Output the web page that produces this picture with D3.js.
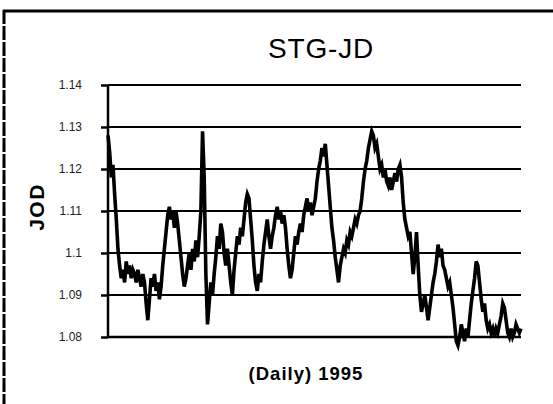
<!DOCTYPE html>
<html>
<head>
<meta charset="utf-8">
<script src="https://cdn.jsdelivr.net/npm/d3@7"></script>
<style>
  body { margin: 0; background: #fff; }
  svg { display: block; font-family: "Liberation Sans", Arial, sans-serif; }
</style>
</head>
<body>
<svg id="vis"></svg>
<script>
// Datos: tipo de cambio STG-JD diario 1995
const TITLE = "STG-JD";
const X_LABEL = "(Daily) 1995";
const Y_LABEL = "JOD";
const Y_TICKS = [1.08, 1.09, 1.1, 1.11, 1.12, 1.13, 1.14];
const Y_TICK_LABELS = ["1.08", "1.09", "1.1", "1.11", "1.12", "1.13", "1.14"];

const rate = [
    1.128, 1.124, 1.118, 1.121, 1.114, 1.108, 1.101,
    1.097, 1.094, 1.096, 1.093, 1.098, 1.095, 1.097, 1.094, 1.096, 1.095, 1.093, 1.096, 1.094, 1.092, 1.095, 1.093,
    1.088, 1.084, 1.089,
    1.094, 1.092, 1.095, 1.091, 1.093, 1.089,
    1.092, 1.097, 1.101, 1.105, 1.109, 1.111, 1.108,
    1.110, 1.106, 1.110, 1.107, 1.103,
    1.099, 1.095, 1.092, 1.094, 1.097,
    1.100, 1.096, 1.101, 1.098, 1.103, 1.099, 1.104,
    1.110, 1.129, 1.118, 1.095, 1.083,
    1.088, 1.093, 1.090, 1.095,
    1.099, 1.104, 1.101, 1.107, 1.105, 1.100,
    1.097, 1.101, 1.097, 1.093, 1.090, 1.096,
    1.100, 1.104, 1.102, 1.106, 1.104, 1.108, 1.112, 1.114,
    1.113, 1.108, 1.103, 1.097, 1.093, 1.091,
    1.095, 1.093, 1.098, 1.102,
    1.105, 1.108, 1.104, 1.101, 1.104, 1.106,
    1.109, 1.111, 1.108, 1.110, 1.107,
    1.109, 1.106, 1.101, 1.097, 1.094,
    1.096, 1.100, 1.104, 1.102, 1.105,
    1.107, 1.105, 1.109, 1.111, 1.113, 1.110,
    1.112, 1.109, 1.111, 1.113, 1.117,
    1.120, 1.122, 1.125, 1.123, 1.126,
    1.121, 1.116, 1.111, 1.106, 1.103,
    1.099, 1.096, 1.093, 1.097, 1.099,
    1.101, 1.100, 1.103, 1.102, 1.105,
    1.104, 1.106, 1.108, 1.107, 1.109, 1.110,
    1.113, 1.117, 1.120, 1.122, 1.125,
    1.127, 1.129, 1.128, 1.125, 1.126,
    1.123, 1.120, 1.121, 1.118, 1.120,
    1.117, 1.116, 1.118, 1.115, 1.117,
    1.119, 1.117, 1.120, 1.121, 1.118,
    1.112, 1.108, 1.106, 1.104, 1.105,
    1.100, 1.095, 1.099, 1.105, 1.097,
    1.090, 1.086, 1.088, 1.090, 1.087,
    1.084, 1.087, 1.090, 1.093, 1.095,
    1.098, 1.102, 1.099, 1.101, 1.097,
    1.096, 1.094, 1.092, 1.093, 1.090,
    1.087, 1.083, 1.079, 1.078,
    1.080, 1.083, 1.081, 1.079, 1.082, 1.080,
    1.084, 1.088, 1.091, 1.094, 1.098,
    1.097, 1.093, 1.089, 1.086, 1.088,
    1.084, 1.082, 1.083, 1.081, 1.082, 1.080,
    1.082, 1.081, 1.083, 1.085, 1.088,
    1.087, 1.084, 1.081, 1.080, 1.082,
    1.080, 1.081, 1.083, 1.082, 1.081, 1.082
];

const WIDTH = 553;
const HEIGHT = 404;
const PLOT = { left: 108, right: 521, top: 85, bottom: 337 };

const svg = d3.select("#vis")
    .attr("width", WIDTH)
    .attr("height", HEIGHT);

// Marco del gráfico (borde superior e izquierdo)
svg.append("line")
    .attr("x1", 3).attr("x2", WIDTH).attr("y1", 11).attr("y2", 11)
    .attr("stroke", "#000").attr("stroke-width", 3);
svg.append("line")
    .attr("x1", 4).attr("x2", 4).attr("y1", 10).attr("y2", HEIGHT)
    .attr("stroke", "#000").attr("stroke-width", 3)
    .attr("stroke-dasharray", "14,2");

// Escalas
const escalaX = d3.scaleLinear()
    .domain([0, rate.length - 1])
    .range([PLOT.left, PLOT.right]);

const escalaY = d3.scaleLinear()
    .domain([1.08, 1.14])
    .range([PLOT.bottom, PLOT.top]);

// Líneas de grilla
svg.append("g")
    .selectAll("line")
    .data(Y_TICKS)
    .join("line")
    .attr("x1", PLOT.left)
    .attr("x2", PLOT.right)
    .attr("y1", d => escalaY(d))
    .attr("y2", d => escalaY(d))
    .attr("stroke", "#000")
    .attr("stroke-width", d => d === 1.08 ? 2.5 : 2.2);

// Eje Y
const ejeY = d3.axisLeft(escalaY)
    .tickValues(Y_TICKS)
    .tickSize(7)
    .tickPadding(19)
    .tickFormat((d, i) => Y_TICK_LABELS[i]);

const contenedorEjeY = svg.append("g")
    .attr("transform", `translate(${PLOT.left}, 0)`)
    .call(ejeY);
contenedorEjeY.select(".domain")
    .attr("stroke", "#000").attr("stroke-width", 2.5)
    .attr("d", `M0,${PLOT.top}V${PLOT.bottom}`);
contenedorEjeY.selectAll(".tick line").attr("stroke-width", 2.5);
contenedorEjeY.selectAll(".tick text")
    .attr("font-family", "Liberation Sans, Arial, sans-serif")
    .attr("font-size", 12)
    .attr("fill", "#222");

// Serie
const linea = d3.line()
    .x((d, i) => escalaX(i))
    .y(d => escalaY(d));

svg.append("path")
    .datum(rate)
    .attr("fill", "none")
    .attr("stroke", "#000")
    .attr("stroke-width", 3.6)
    .attr("stroke-linejoin", "miter")
    .attr("d", linea);

// Textos
svg.append("text")
    .attr("x", 321)
    .attr("y", 58)
    .attr("text-anchor", "middle")
    .attr("font-size", 28)
    .attr("letter-spacing", 0.8)
    .text(TITLE);

svg.append("text")
    .attr("x", 306)
    .attr("y", 380)
    .attr("text-anchor", "middle")
    .attr("font-size", 18.5)
    .attr("font-weight", "bold")
    .attr("letter-spacing", 1)
    .text(X_LABEL);

svg.append("text")
    .attr("transform", "translate(44, 207) rotate(-90)")
    .attr("text-anchor", "middle")
    .attr("font-size", 21)
    .attr("font-weight", "bold")
    .attr("letter-spacing", 1.5)
    .text(Y_LABEL);
</script>
</body>
</html>
